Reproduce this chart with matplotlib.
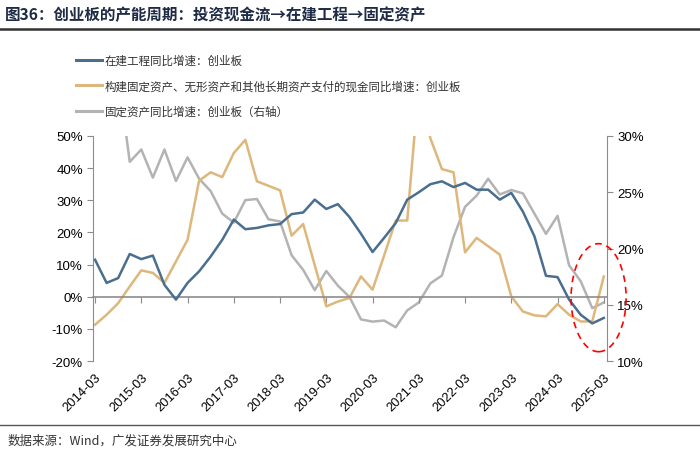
import numpy as np
import matplotlib
matplotlib.use('Agg')
import matplotlib.pyplot as plt
from matplotlib.patches import Ellipse
from matplotlib.lines import Line2D

plt.rcParams['font.family'] = ['Liberation Sans', 'Noto Sans CJK SC', 'DejaVu Sans']
cjk = ['Noto Sans CJK SC', 'DejaVu Sans']

# --- podaci (kvartalno, 2014-03 .. 2025-03) ---
quarters = [f'{y}-{m:02d}' for y in range(2014, 2026) for m in (3, 6, 9, 12)][:45]

cip_yoy = [11.5, 4.3, 5.8, 13.3, 11.7, 12.8, 3.7, -0.9, 4.3, 7.9,
           12.5, 17.7, 24.0, 21.0, 21.4, 22.2, 22.6, 25.7, 26.2, 30.2,
           27.3, 28.8, 24.8, 19.6, 13.9, 18.3, 22.9, 30.2, 32.5, 35.0,
           35.9, 34.1, 35.4, 33.3, 33.3, 30.2, 32.3, 26.5, 18.8, 6.5,
           6.1, -0.9, -5.6, -8.3, -6.6]

capex_cash_yoy = [-8.7, -5.6, -2.0, 3.2, 8.2, 7.4, 4.3, 11.0, 17.7, 36.1,
                  38.7, 37.2, 44.7, 48.8, 35.9, 34.5, 33.1, 19.0, 22.6, 9.8,
                  -3.0, -1.5, -0.4, 6.3, 2.2, 12.8, 23.7, 23.7, 66.0, 49.3,
                  39.7, 38.7, 13.8, 18.3, 15.7, 13.1, 0.1, -4.6, -5.8, -6.1,
                  -2.3, -5.6, -7.7, -7.7, 6.3]

fixed_assets_yoy = [np.nan, np.nan, 35.5, 27.7, 28.8, 26.3, 28.8, 26.0, 28.1, 26.2,
                    25.1, 23.1, 22.3, 24.3, 24.4, 22.6, 22.4, 19.4, 18.1, 16.3,
                    18.0, 16.7, 15.7, 13.7, 13.5, 13.6, 13.0, 14.5, 15.2, 16.9,
                    17.6, 21.0, 23.7, 24.7, 26.2, 24.8, 25.2, 24.9, 23.1, 21.3,
                    22.9, 18.5, 17.1, 14.7, 15.2]

labels = ['在建工程同比增速：创业板',
          '构建固定资产、无形资产和其他长期资产支付的现金同比增速：创业板',
          '固定资产同比增速：创业板（右轴）']

c_blue = '#4A6E90'
c_tan = '#DDB77B'
c_gray = '#B3B3B3'
c_axis = '#8C8C8C'

x = np.arange(len(quarters))

fig = plt.figure(figsize=(7, 4.56), dpi=100)
ax = fig.add_axes([0.1333, 0.2061, 0.7334, 0.4935])
ax2 = ax.twinx()

ax.plot(x, cip_yoy, color=c_blue, lw=1.8, zorder=3)
ax.plot(x, capex_cash_yoy, color=c_tan, lw=1.8, zorder=2)
ax2.plot(x, fixed_assets_yoy, color=c_gray, lw=1.8)
ax.set_zorder(ax2.get_zorder() + 1)
ax.patch.set_visible(False)

ax.set_xlim(-0.15, 44.25)
ax.set_ylim(-20, 50)
ax2.set_ylim(10, 30)

ax.set_yticks(np.arange(-20, 51, 10))
ax.set_yticklabels([f'{v}%' for v in range(-20, 51, 10)])
ax2.set_yticks(np.arange(10, 31, 5))
ax2.set_yticklabels([f'{v}%' for v in range(10, 31, 5)])

for a in (ax, ax2):
    a.spines['top'].set_visible(False)
ax.spines['right'].set_visible(False)
ax2.spines['left'].set_visible(False)
ax2.spines['bottom'].set_visible(False)
ax.spines['left'].set_color(c_axis)
ax2.spines['right'].set_color(c_axis)
ax.spines['bottom'].set_position(('data', 0))
ax.spines['bottom'].set_color(c_axis)
ax.spines['bottom'].set_linewidth(1.2)

ax.tick_params(axis='y', colors=c_axis, labelcolor='black', labelsize=9.5, length=4)
ax2.tick_params(axis='y', colors=c_axis, labelcolor='black', labelsize=9.5, length=4)

ticks = x[::4]
ax.set_xticks(ticks)
ax.tick_params(axis='x', colors=c_axis, length=4, labelbottom=False)

sec = ax.secondary_xaxis(0.0)
sec.set_xticks(ticks)
sec.set_xticklabels([quarters[i] for i in ticks], rotation=45, ha='right',
                    va='top', rotation_mode='anchor', fontsize=9.3)
sec.tick_params(length=0, pad=7)
sec.spines['bottom'].set_visible(False)

# crvena isprekidana elipsa oko zadnjih kvartala
ell = Ellipse((43.55, -0.3), 4.76, 33.6, fill=False, edgecolor='#FF0000',
              linestyle=(0, (4, 3)), lw=1.2, clip_on=False, zorder=5)
ax.add_patch(ell)

handles = [Line2D([], [], color=c, lw=2.2) for c in (c_blue, c_tan, c_gray)]
fig.legend(handles, labels, loc='upper left', bbox_to_anchor=(0.094, 0.903),
           frameon=False, prop={'family': cjk, 'size': 8.3}, handlelength=2.2,
           handletextpad=0.3, labelspacing=1.1, labelcolor='#333333')

fig.text(0.007, 0.967, '图36：创业板的产能周期：投资现金流→在建工程→固定资产',
         family=cjk, fontsize=11.2, fontweight='bold', color='#1F2A44', va='center')
fig.add_artist(Line2D([0, 1], [0.934, 0.934], color='#333333', lw=1.8))
fig.add_artist(Line2D([0, 1], [0.066, 0.066], color='#555555', lw=1.0))
fig.text(0.011, 0.032, '数据来源：Wind，广发证券发展研究中心', family=cjk,
         fontsize=9, color='#333333', va='center')

fig.savefig('out.png', dpi=100)
